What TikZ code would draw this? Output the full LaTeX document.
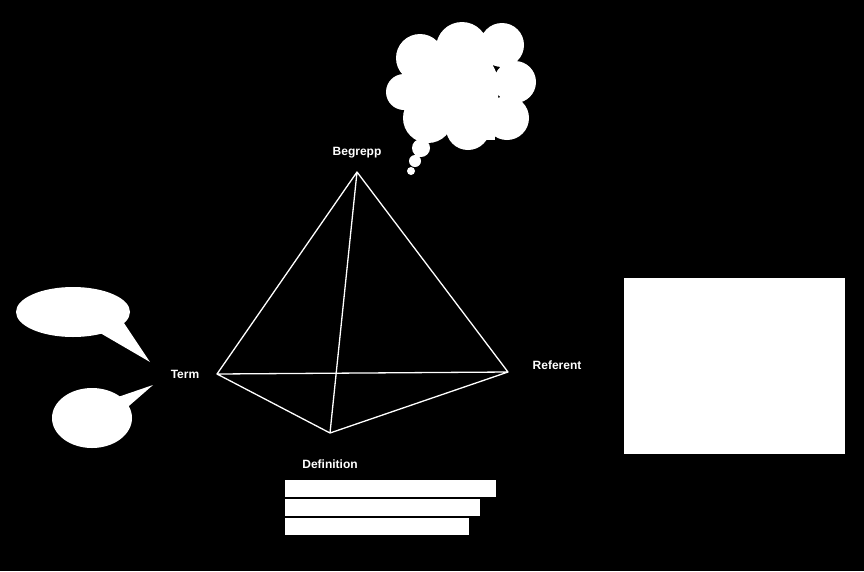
\documentclass[tikz,border=0pt]{standalone}
\usepackage{fontspec}
\setmainfont{Liberation Sans}
\begin{document}
\begin{tikzpicture}[x=1pt,y=-1pt,
  lbl/.style={text=white,font=\bfseries\fontsize{12}{14}\selectfont,inner sep=1pt},
  edge/.style={draw=white,line width=1.3pt}]
\fill[black] (0,0) rectangle (864,571);
\useasboundingbox (0,0) rectangle (864,571);
% pyramid
\coordinate (T) at (357,172);
\coordinate (L) at (217,374);
\coordinate (R) at (508,372);
\coordinate (B) at (330,433);
\draw[edge,line join=round] (T)--(L)--(B)--(R)--(T)--(B) (L)--(R);
\node[lbl] (beg) at (357,153) {Begrepp};
\node[lbl] (term) at (185,374) {Term};
\node[lbl] (ref) at (557,365) {Referent};
\node[lbl] (def) at (330,464) {Definition};
% bars
\fill[white] (285,480) rectangle (496,497);
\fill[white] (285,499) rectangle (480,516);
\fill[white] (285,518) rectangle (469,535);
% referent box
\fill[white] (624,278) rectangle (845,454);
% speech bubbles
\fill[white] (73,312) ellipse [x radius=57, y radius=25];
\fill[white] (95,330) -- (150,362) -- (122,320) -- cycle;
\fill[white] (92,418) ellipse [x radius=40, y radius=30];
\fill[white] (115,398) -- (153,385) -- (122,412) -- cycle;
% thought cloud
\fill[white] (420,58) circle (24) (462,48) circle (26) (502,45) circle (22)
  (515,82) circle (21) (507,118) circle (22) (468,128) circle (22)
  (428,118) circle (25) (404,92) circle (18) (455,88) circle (44);
\fill[white] (475,123) rectangle (495,140);
\fill[white] (421,148) circle (9) (415,161) circle (6) (411,171) circle (4);
\end{tikzpicture}
\end{document}
